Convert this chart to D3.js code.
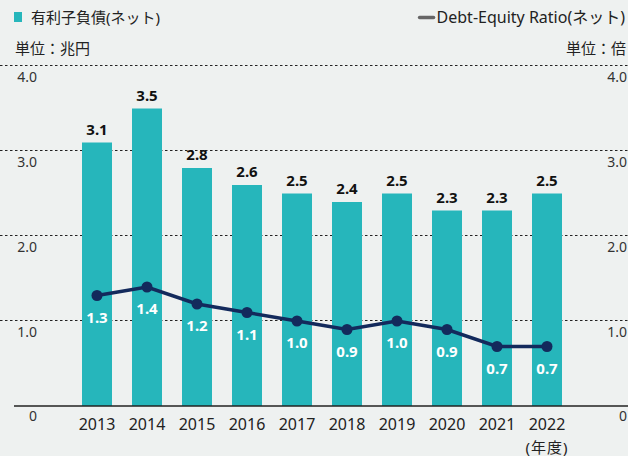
<!DOCTYPE html>
<html>
<head>
<meta charset="utf-8">
<script src="https://cdn.jsdelivr.net/npm/d3@7"></script>
<style>
  html, body { margin: 0; padding: 0; background: #eef1f0; }
  text { font-family: "Noto Sans", "Noto Sans CJK JP", sans-serif; }
</style>
</head>
<body>
<div id="chart"></div>
<script>
// data
const years = ["2013", "2014", "2015", "2016", "2017", "2018", "2019", "2020", "2021", "2022"];
const netDebt = [3.1, 3.5, 2.8, 2.6, 2.5, 2.4, 2.5, 2.3, 2.3, 2.5];
const deRatio = [1.3, 1.4, 1.2, 1.1, 1.0, 0.9, 1.0, 0.9, 0.7, 0.7];
const yTicks = [0, 1, 2, 3, 4];

const width = 628, height = 456;
const teal = "#26b6bb", navy = "#132a5c";

const svg = d3.select("#chart").append("svg")
    .attr("width", width)
    .attr("height", height);

const x = d3.scaleBand()
    .domain(years)
    .range([72, 572])
    .paddingInner(0.4)
    .paddingOuter(0.2);

const y = d3.scaleLinear().domain([0, 4]).range([406, 66]);

// dotted grid
svg.append("g")
    .selectAll("line")
    .data(yTicks.filter(d => d > 0))
    .enter().append("line")
    .attr("x1", 0).attr("x2", width)
    .attr("y1", d => y(d) - 0.5).attr("y2", d => y(d) - 0.5)
    .attr("stroke", "#222")
    .attr("stroke-width", 1)
    .attr("stroke-dasharray", "2.5,2.5");

// tick labels, left and right
const fmt = d => d === 0 ? "0" : d3.format(".1f")(d);
svg.append("g")
    .selectAll("text")
    .data(yTicks)
    .enter().append("text")
    .attr("x", 37)
    .attr("y", d => y(d) + (d === 0 ? 15 : 16))
    .attr("text-anchor", "end")
    .attr("font-size", 14)
    .attr("fill", "#333")
    .text(fmt);

svg.append("g")
    .selectAll("text")
    .data(yTicks)
    .enter().append("text")
    .attr("x", 627)
    .attr("y", d => y(d) + (d === 0 ? 15 : 16))
    .attr("text-anchor", "end")
    .attr("font-size", 14)
    .attr("fill", "#333")
    .text(fmt);

// bars
svg.append("g")
    .selectAll("rect")
    .data(netDebt)
    .enter().append("rect")
    .attr("x", (d, i) => x(years[i]))
    .attr("y", d => y(d))
    .attr("width", x.bandwidth())
    .attr("height", d => y(0) - y(d))
    .attr("fill", teal);

svg.append("g")
    .selectAll("text")
    .data(netDebt)
    .enter().append("text")
    .attr("x", (d, i) => x(years[i]) + x.bandwidth() / 2)
    .attr("y", d => y(d) - 8)
    .attr("text-anchor", "middle")
    .attr("font-size", 15)
    .attr("font-weight", "bold")
    .attr("fill", "#111")
    .text(d => d.toFixed(1));

// baseline
svg.append("line")
    .attr("x1", 14).attr("x2", width)
    .attr("y1", y(0)).attr("y2", y(0))
    .attr("stroke", "#222")
    .attr("stroke-width", 1.5);

// year labels
svg.append("g")
    .selectAll("text")
    .data(years)
    .enter().append("text")
    .attr("x", d => x(d) + x.bandwidth() / 2)
    .attr("y", 430)
    .attr("text-anchor", "middle")
    .attr("font-size", 16)
    .attr("fill", "#222")
    .text(d => d);

svg.append("text")
    .attr("x", x("2022") + x.bandwidth() / 2)
    .attr("y", 453)
    .attr("text-anchor", "middle")
    .attr("font-size", 15)
    .attr("letter-spacing", 1)
    .attr("fill", "#222")
    .text("(年度)");

// D/E ratio line
const line = d3.line()
    .x((d, i) => x(years[i]) + x.bandwidth() / 2)
    .y(d => y(d));

svg.append("path")
    .datum(deRatio)
    .attr("d", line)
    .attr("fill", "none")
    .attr("stroke", navy)
    .attr("stroke-width", 3.5);

svg.append("g")
    .selectAll("circle")
    .data(deRatio)
    .enter().append("circle")
    .attr("cx", (d, i) => x(years[i]) + x.bandwidth() / 2)
    .attr("cy", d => y(d))
    .attr("r", 5.5)
    .attr("fill", navy);

svg.append("g")
    .selectAll("text")
    .data(deRatio)
    .enter().append("text")
    .attr("x", (d, i) => x(years[i]) + x.bandwidth() / 2)
    .attr("y", d => y(d) + 27)
    .attr("text-anchor", "middle")
    .attr("font-size", 15)
    .attr("font-weight", "bold")
    .attr("fill", "#fff")
    .text(d => d.toFixed(1));

// legend + units
svg.append("rect")
    .attr("x", 14).attr("y", 12)
    .attr("width", 8).attr("height", 10)
    .attr("fill", teal);
svg.append("text")
    .attr("x", 31).attr("y", 23)
    .attr("font-size", 15)
    .attr("fill", "#222")
    .text("有利子負債(ネット)");
svg.append("text")
    .attr("x", 15).attr("y", 54)
    .attr("font-size", 15)
    .attr("fill", "#222")
    .text("単位：兆円");

const deLabel = svg.append("text")
    .attr("x", 625).attr("y", 23)
    .attr("text-anchor", "end")
    .attr("font-size", 16)
    .attr("fill", "#222")
    .text("Debt-Equity Ratio(ネット)");
svg.append("text")
    .attr("x", 626).attr("y", 54)
    .attr("text-anchor", "end")
    .attr("font-size", 15)
    .attr("fill", "#222")
    .text("単位：倍");

// legend dash left of the right legend text
const bb = deLabel.node().getBBox();
svg.append("line")
    .attr("x1", bb.x - 17).attr("x2", bb.x - 3)
    .attr("y1", 17.5).attr("y2", 17.5)
    .attr("stroke", "#666")
    .attr("stroke-width", 3.5)
    .attr("stroke-linecap", "round");
</script>
</body>
</html>
